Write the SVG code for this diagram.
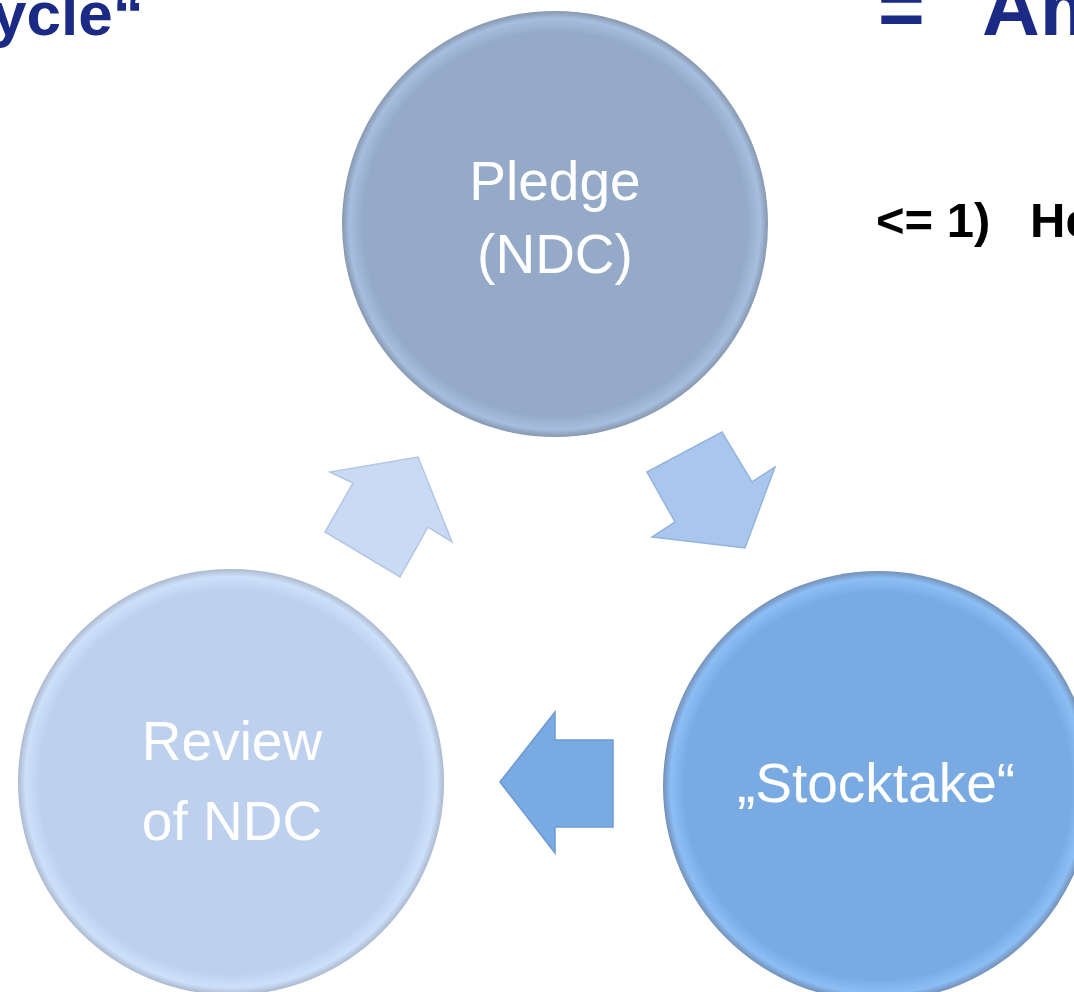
<svg xmlns="http://www.w3.org/2000/svg" width="1074" height="992" viewBox="0 0 1074 992">
<style>
.title{font-family:"Liberation Sans",Arial,sans-serif;font-weight:bold;fill:#1B2A84}
.note{font-family:"Liberation Sans",Arial,sans-serif;font-weight:bold;fill:#000}
.lbl{font-family:"Liberation Sans",Arial,sans-serif;font-size:55px;fill:#fff;text-anchor:middle}
</style>
<defs>
<radialGradient id="gP" cx="0.5" cy="0.5" r="0.5">
<stop offset="0" stop-color="#94AAC8"/><stop offset="0.9" stop-color="#94AAC8"/><stop offset="0.965" stop-color="#A6BEDF"/><stop offset="1" stop-color="#8797AE"/>
</radialGradient>
<radialGradient id="gR" cx="0.5" cy="0.5" r="0.5">
<stop offset="0" stop-color="#BDD0EE"/><stop offset="0.9" stop-color="#BDD0EE"/><stop offset="0.965" stop-color="#CDE0FA"/><stop offset="1" stop-color="#ABB9CE"/>
</radialGradient>
<radialGradient id="gS" cx="0.5" cy="0.5" r="0.5">
<stop offset="0" stop-color="#7AAAE2"/><stop offset="0.9" stop-color="#7AAAE2"/><stop offset="0.965" stop-color="#8CBEF6"/><stop offset="1" stop-color="#7390B6"/>
</radialGradient>
</defs>
<g id="title-left"><text class="title" x="-8" y="35" font-size="62">ycle“</text></g>
<g id="title-right"><text class="title" font-size="80" y="35"><tspan x="878">=</tspan><tspan x="982">Am</tspan></text></g>
<g id="note"><text class="note" font-size="49" y="237"><tspan x="876">&lt;= 1)</tspan><tspan x="1030">He</tspan></text></g>
<g id="node-pledge">
<circle cx="555" cy="224" r="213" fill="url(#gP)"/>
<text class="lbl" x="555" y="200">Pledge</text>
<text class="lbl" x="555" y="273">(NDC)</text>
</g>
<g id="node-review">
<circle cx="231" cy="782" r="213" fill="url(#gR)"/>
<text class="lbl" x="232" y="760">Review</text>
<text class="lbl" x="232" y="840">of NDC</text>
</g>
<g id="node-stocktake">
<circle cx="878" cy="786" r="215" fill="url(#gS)"/>
<text class="lbl" x="876" y="802">„Stocktake“</text>
</g>
<g id="connectors" stroke-linejoin="miter">
<polygon points="418,457 452,542 428,527 400,577 325,532 353,483 330,472" fill="#C9DAF4" stroke="#B2C6E4" stroke-width="1.5"/>
<polygon points="647,472 722,432 752,482 775,467 745,548 652,537 675,522" fill="#A9C7EC" stroke="#94B4DE" stroke-width="1.5"/>
<polygon points="500,782 555,712 555,740 613,740 613,827 555,827 555,853" fill="#7AAAE2" stroke="#6D9AD2" stroke-width="1.5"/>
</g>
</svg>
